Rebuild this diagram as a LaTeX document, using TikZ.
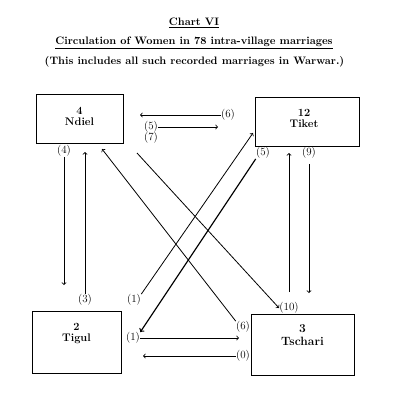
\documentclass[tikz,border=0pt]{standalone}
\usetikzlibrary{positioning}
\begin{document}
\begin{tikzpicture}[x=1pt,y=-1pt,line width=0.8pt,
  village/.style={draw,line width=1pt,inner sep=0pt},
  vname/.style={font=\fontsize{11}{11.5}\selectfont\bfseries,align=center,inner sep=0pt},
  count/.style={inner sep=0pt,font=\fontsize{11}{12}\selectfont},
  heading/.style={font=\fontsize{10.8}{12}\selectfont\bfseries}]
\useasboundingbox (0,0) rectangle (403,409);
% heading
\node[heading] (title) at (194,23) {\underline{Chart VI}};
\node[heading] (sub) at (194,43) {\underline{Circulation of Women in 78 intra-village marriages}};
\node[heading] (note) at (194.5,62) {(This includes all such recorded marriages in Warwar.)};
% villages
\node[village,minimum width=87pt,minimum height=48pt] (ndiel) at (79.5,119) {};
\node[vname,below=12pt of ndiel.north] (ndieltxt) {4\\Ndiel};
\node[village,minimum width=104pt,minimum height=48pt] (tiket) at (307,122) {};
\node[vname,below=11pt of tiket.north,xshift=-3pt] (tikettxt) {12\\Tiket};
\node[village,minimum width=89pt,minimum height=62pt] (tigul) at (76.5,342) {};
\node[vname,below=12pt of tigul.north] (tigultxt) {2\\Tigul};
\node[village,minimum width=103pt,minimum height=61pt] (tschari) at (302.5,344.5) {};
\node[vname,below=11pt of tschari.north,font=\fontsize{12}{12.5}\selectfont\bfseries] (tscharitxt) {3\\Tschari};
% counts
\node[count] (c4) at (64,151) {(4)};
\node[count] (c3) at (85,300) {(3)};
\node[count] (c1a) at (134,300) {(1)};
\node[count] (c1b) at (133,338) {(1)};
\node[count] (c6a) at (228,115) {(6)};
\node[count] (c5a) at (151,127) {(5)};
\node[count] (c7) at (151,138) {(7)};
\node[count] (c5b) at (263,153) {(5)};
\node[count] (c9) at (309,153) {(9)};
\node[count] (c10) at (289,308) {(10)};
\node[count] (c6b) at (243,327) {(6)};
\node[count] (c0) at (243,356) {(0)};
% free ends
\coordinate (ndielin1) at (140,115);
\coordinate (tiketin1) at (218,127);
\coordinate (tigulin1) at (64,285);
\coordinate (ndielin2) at (85,152);
\coordinate (ndielin3) at (102,149);
\coordinate (ndielout) at (137,153);
\coordinate (tiketin2) at (253,133);
\coordinate (tscharin) at (239,338);
\coordinate (tigulin2) at (143,356);
\coordinate (tscharout) at (289,292);
\coordinate (tiketin3) at (289,153);
\coordinate (tscharin2) at (309,293);
% flows
\draw [->] (c6a.west) -- (ndielin1);
\draw [->] (c5a.east) -- (tiketin1);
\draw [->] (c4.south) -- (tigulin1);
\draw [->] (c3.north) -- (ndielin2);
\draw [->] (c6b.north west) -- (ndielin3);
\draw [->] (ndielout) -- (c10.west);
\draw [->] (c1a.north east) -- (tiketin2);
\draw [->,line width=1.2pt] (c5b.south west) -- (c1b.north east);
\draw [->] (c1b.east) -- (tscharin);
\draw [->] (c0.west) -- (tigulin2);
\draw [->] (tscharout) -- (tiketin3);
\draw [->,shorten <=5pt] (c9.south) -- (tscharin2);
\end{tikzpicture}
\end{document}
